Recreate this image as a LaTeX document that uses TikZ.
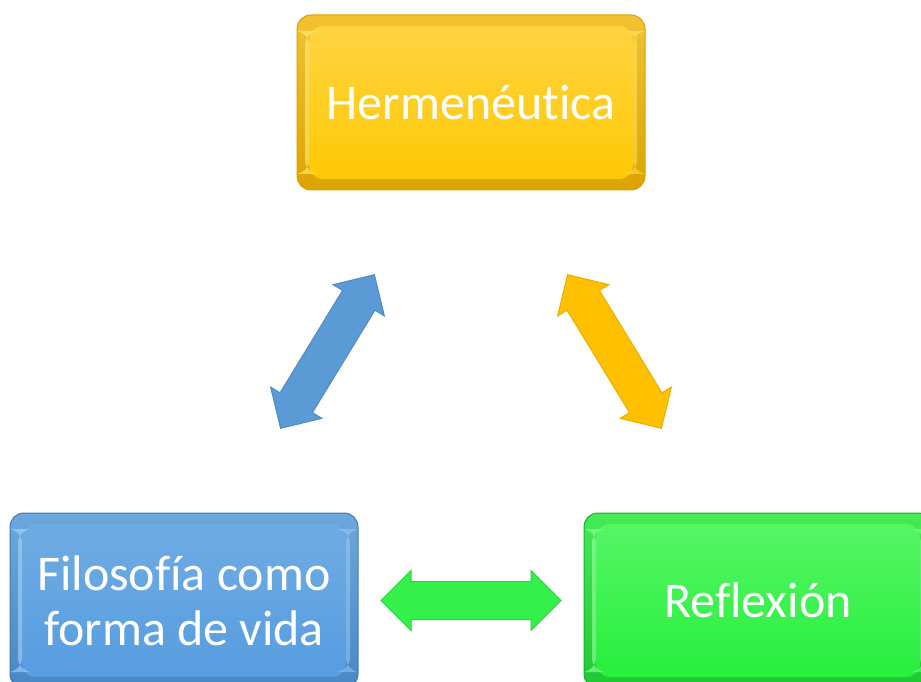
\documentclass[tikz,border=0pt]{standalone}
\usepackage{fontspec}
\setmainfont[Ligatures={NoCommon}]{Carlito}
\usetikzlibrary{calc}
\definecolor{yEdgeT}{HTML}{F2C232}
\definecolor{yEdgeB}{HTML}{DCA400}
\definecolor{yFaceT}{HTML}{FFD445}
\definecolor{yFaceB}{HTML}{FFC800}
\definecolor{yHi}{HTML}{FFF27A}
\definecolor{yLine}{HTML}{D9A000}
\definecolor{bEdgeT}{HTML}{6CA8DE}
\definecolor{bEdgeB}{HTML}{4A86C4}
\definecolor{bFaceT}{HTML}{70ACE3}
\definecolor{bFaceB}{HTML}{559CE0}
\definecolor{bHi}{HTML}{A8D8F8}
\definecolor{bLine}{HTML}{3F78B0}
\definecolor{gEdgeT}{HTML}{45EA55}
\definecolor{gEdgeB}{HTML}{1FC832}
\definecolor{gFaceT}{HTML}{58F668}
\definecolor{gFaceB}{HTML}{24EE3A}
\definecolor{gHi}{HTML}{9CFFA4}
\definecolor{gLine}{HTML}{1BB02C}
\definecolor{arrB}{HTML}{5B9BD5}
\definecolor{arrBd}{HTML}{4F8BC4}
\definecolor{arrY}{HTML}{FFC000}
\definecolor{arrYd}{HTML}{E8AE00}
\definecolor{arrG}{HTML}{33F04A}
\definecolor{arrGd}{HTML}{26D83A}
\newcommand{\blockarrow}[4]{%
  \begin{scope}[shift={(#1)}, rotate=#2]
    \filldraw[fill=#3, draw=#4, line width=1pt, line join=miter]
      (-90,0) -- (-60,30) -- (-60,19) -- (60,19) -- (60,30) -- (90,0)
      -- (60,-30) -- (60,-19) -- (-60,-19) -- (-60,-30) -- cycle;
  \end{scope}}
\tikzset{
  bevelbox/.style n args={6}{
    rounded corners=14pt, minimum width=348pt, minimum height=175pt,
    inner sep=0pt, align=center, text=white,
    font=\fontsize{50}{55}\selectfont,
    top color=#1, bottom color=#2, draw=#6, line width=1pt,
    path picture={
      \shade[top color=#3, bottom color=#4]
        ([shift={(12pt,-11pt)}]path picture bounding box.north west)
        rectangle ([shift={(-12pt,11pt)}]path picture bounding box.south east);
      \fill[#5, opacity=0.6]
        ([shift={(8pt,-16pt)}]path picture bounding box.north west)
        rectangle ([shift={(12pt,16pt)}]path picture bounding box.south west);
      \fill[#5, opacity=0.45]
        ([shift={(-12pt,-16pt)}]path picture bounding box.north east)
        rectangle ([shift={(-8pt,16pt)}]path picture bounding box.south east);
    }
  }
}
\begin{document}
\begin{tikzpicture}[x=1pt,y=1pt]
\useasboundingbox (0,0) rectangle (921,681);
\clip (0,0) rectangle (921,681);
\node[bevelbox={yEdgeT}{yEdgeB}{yFaceT}{yFaceB}{yHi}{yLine}] (herm) at (471,578.5) {Hermenéutica};
\node[bevelbox={bEdgeT}{bEdgeB}{bFaceT}{bFaceB}{bHi}{bLine}] (filo) at (184,80.5) {Filosofía como\\forma de vida};
\node[bevelbox={gEdgeT}{gEdgeB}{gFaceT}{gFaceB}{gHi}{gLine}] (refl) at (758,80.5) {Reflexión};
\coordinate (bc) at ($(herm.center)!0.5!(filo.center)$);
\coordinate (yc) at ($(herm.center)!0.5!(refl.center)$);
\coordinate (gc) at ($(filo.center)!0.5!(refl.center)$);
\blockarrow{bc}{58.6}{arrB}{arrBd}
\blockarrow{yc}{-58.6}{arrY}{arrYd}
\blockarrow{gc}{0}{arrG}{arrGd}
\end{tikzpicture}
\end{document}
